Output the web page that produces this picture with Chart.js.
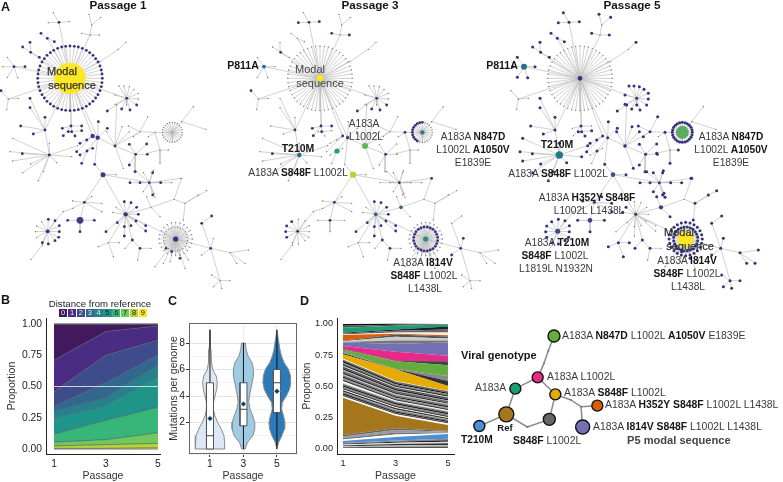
<!DOCTYPE html>
<html><head><meta charset="utf-8">
<style>
html,body{margin:0;padding:0;background:#fff;width:783px;height:482px;overflow:hidden;font-family:"Liberation Sans",Arial,sans-serif}
canvas{position:absolute}
.t{position:absolute;white-space:nowrap;line-height:1;color:#3a3a3a;font-size:10.2px}
.t b{color:#151515}
.key{position:absolute;top:309px;width:8.4px;height:8.4px;font-size:7.5px;line-height:8.6px;text-align:center}
</style>
<script src="https://cdn.jsdelivr.net/npm/chart.js@4/dist/chart.umd.min.js"></script>
</head><body>
<script>
/* ---------- shared tick labels ---------- */
const passages=[1,3,5];
const proportionTicks=[0,0.25,0.5,0.75,1];

/* ---------- B: share of genomes by distance from reference (0..9) at passages 1,3,5 ---------- */
const distanceLabels=['0','1','2','3','4','5','6','7','8','9'];
const distanceColors=['#43195e','#4a2c82','#3f4c8c','#32688e','#27808e','#1f9488','#36b679','#71c95e','#b8d433','#fde725'];
const distanceP1=[0.29,0.25,0.12,0.04,0.05,0.13,0.065,0.03,0.02,0.005];
const distanceP3=[0.06,0.19,0.22,0.12,0.06,0.12,0.155,0.04,0.03,0.005];
const distanceP5=[0.015,0.115,0.12,0.08,0.09,0.245,0.205,0.085,0.035,0.01];

/* ---------- C: violin profile (density at mutation counts) ---------- */
const violinLevels=[0,0.5,1,1.5,2,2.5,3,3.5,4,4.5,5,5.5,6,6.5,7,7.5,8,8.5,9];
const densityP1=[44,44,42,34,23,15,10,10,15,20,22,19,8,5,4,3,2,1,0];
const densityP3=[5,12,28,34,34,28,20,16,18,22,26,30,30,26,14,8,6];
const densityP5=[0,5,15,22,24,20,14,16,28,38,42,41,35,22,14,9,6,3,0];
const boxQ1=[0,1.75,2.75], boxMedian=[1,3,5], boxQ3=[5,5,6], boxMean=[2.3,3.4,4.35], whiskerTop=[9,8,9];
const violinFill=['#dce8f6','#a0cbe4','#2b7bba'];

/* ---------- D: strata stacked from the bottom, width at passages 1,3,5 ---------- */
const strataColor=['#555','#bbb','#333','#ddd','#222','#888','#4b8fd6','#fff','#777','#999','#666','#a6761d',
'#fff','#555','#222','#777','#aaa','#333','#fff','#444','#888','#222','#666','#bbb','#fff','#444','#999','#222','#777','#ccc','#333','#666','#aaa','#222','#555','#ddd','#333','#888','#111','#666','#fff',
'#e6ab02','#333','#888','#62ad3e','#444','#e7298a','#7570b3','#777','#ccc','#555','#d95f02','#eee','#666','#222','#1b9e77','#555','#111'];
const strataP1=[.006,.008,.006,.008,.006,.006,.016,.012,.013,.012,.012,.30,
.012,.012,.012,.010,.003,.012,.006,.012,.010,.012,.010,.008,.014,.014,.012,.012,.012,.006,.014,.012,.010,.014,.014,.006,.014,.012,.012,.012,.006,
.035,.01,.01,.02,.005,.023,.027,.005,.005,.005,.045,.006,.008,.006,.04,.015,.015];
const strataP3=[.01,.01,.012,.01,.008,.01,.03,.02,.015,.02,.015,.10,
.012,.012,.010,.010,.006,.012,.006,.012,.010,.012,.010,.006,.006,.012,.010,.010,.012,.008,.012,.012,.004,.012,.010,.006,.012,.010,.010,.012,.004,
.095,.001,.004,.06,.001,.075,.065,.025,.03,.02,.005,.01,.015,.01,.03,.008,.007];
const strataP5=[.012,.012,.015,.012,.012,.012,.038,.006,.006,.006,.006,.048,
.012,.012,.010,.010,.004,.010,.005,.012,.010,.012,.010,.006,.006,.012,.010,.012,.012,.006,.012,.012,.004,.012,.012,.006,.012,.010,.010,.012,.002,
.04,.04,.04,.088,.032,.043,.107,.016,.016,.016,.01,.024,.024,.024,.015,.003,.002];

/* ---------- A: genome network. [name, parent, x, y, hub code, leaf code, leaves x,y,...]
   code = presence in passage 1,3,5 ('.' absent, 'o' present) ---------- */
const networkStars=[
['root',null,210,235,'ooo','o..',[307,235,306,248,304,260,300,272,294,284,287,294,279,304,269,312,259,319,247,325,235,329,223,331,210,332,197,331,185,329,173,325,161,319,151,312,141,304,133,294,126,284,120,272,116,260,114,248,113,235,114,222,116,210,120,198,126,186,133,176,141,166,151,158,161,151,173,145,185,141,197,139,210,138,223,139,235,141,247,145,259,151,269,158,279,166,287,176,294,186,300,198,304,210,306,222]],
['t1','root',270,105,'...','.oo',[245,100,298,105]],
['t2','t1',275,75,'...','..o',[267,43,302,52]],
['t3','root',177,67,'ooo','..o',[160,38]],
['t3','root',177,67,'ooo','.oo',[208,65,145,68]],
['t4','root',142,115,'o.o','o.o',[123,100,163,125]],
['t5','root',92,157,'ooo','o.o',[68,141,90,127,118,172]],
['p811','root',42,200,'ooo','..o',[8,200,53,233,22,232,22,172]],
['p811','root',42,200,'ooo','o.o',[75,200]],
['l2','root',25,297,'...','...',[55,295,20,328]],
['l2','root',25,297,'...','oo.',[3,272]],
['r0','root',300,185,'...','...',[]],
['r0b','r0',355,148,'...','..o',[378,127]],
['r1','root',380,295,'ooo','..o',[357,258,372,258,388,260,402,268,415,280,415,297,345,285,345,313,380,315]],
['r1','root',380,295,'ooo','oco',[365,327,390,330,410,315,322,333]],
['b1','root',135,390,'ooo','o.o',[90,295,90,323,135,352,100,402,62,378]],
['T','b1',148,465,'ooo','..o',[38,415,30,455,38,483,92,492,68,518,115,542,130,515,148,430,233,437,215,470,170,488]],
['T','b1',148,465,'ooo','ooo',[67,461]],
['c1','root',213,378,'ooo','oo.',[187,385,245,378,190,407]],
['c2','root',215,395,'ooo','o.o',[245,392,225,408,205,395]],
['m1','root',278,408,'ooo','o.o',[240,430,230,455,260,420]],
['m2','root',293,413,'ooo','o.o',[295,365,322,385]],
['a','m2',261,453,'ooo','o..',[240,465,278,445,245,490]],
['n','m2',345,438,'ooo','..o',[366,380,320,395,388,395,350,315]],
['w','n',407,463,'ooo','o.o',[442,463,388,433,388,495,440,432,405,515]],
['u2','n',420,395,'..o','..o',[443,350,385,378,400,410]],
['u3','u2',465,397,'.oo','...',[445,410]],
['u4','u3',480,450,'...','..o',[505,450,440,460,480,490]],
['dr','u3',517,397,'...','..o',[547,397,546,405,543,412,538,418,532,423,525,426,517,427,509,426,543,382,546,389,532,371,538,376,525,368]],
['dr','u3',517,397,'...','.oo',[502,423,496,418,491,412,488,405,487,397,488,389,491,382,496,376,502,371,509,368,517,367]],
['dr2','dr',545,365,'...','...',[580,320,618,388]],
['s','m2',284,493,'o.o','...',[]],
['S','s',309,524,'ooo','..o',[348,524]],
['v','n',370,505,'..o','...',[]],
['H','S',377,643,'ooo','oo.',[373,605,393,608,410,622,415,643,408,663,393,677,373,680,352,668,437,677,437,693,318,695,373,708]],
['H','v',377,643,'ooo','..o',[338,637,348,622]],
['Q','S',448,548,'ooo','o.o',[482,548,390,548,420,548,458,518,458,585]],
['Q','S',448,548,'ooo','..o',[515,548,543,535,410,515,430,518,460,512,430,575,462,580,465,592]],
['G','H',453,622,'..o','..o',[480,650,440,590]],
['G2','G',522,598,'...','.oo',[545,535]],
['G3','G2',555,610,'..o','..o',[620,572,595,585,550,660]],
['y1','H',325,728,'..o','..o',[295,740,340,770,358,728]],
['y2','H',397,720,'ooo','..o',[375,745]],
['y3','y2',420,745,'ooo','...',[453,745,413,780]],
['k','S',253,607,'ooo','..o',[218,603,275,590,305,610,305,635]],
['K','k',240,661,'ooo','o.o',[283,661,203,661,240,695]],
['f','k',218,625,'...','...',[]],
['f2','f',190,635,'...','...',[]],
['L','f2',143,694,'ooo','o.o',[145,658,165,662,178,677,178,695,176,712,165,722,145,732,127,728]],
['L','f2',143,694,'ooo','.oo',[110,712,107,695,110,678,125,665]],
['L2','L',127,735,'...','...',[93,778]],
['M','H',527,717,'ooo','..o',[577,717,575,730,570,742,562,752,552,760,540,765,527,767,514,765,502,760,492,752,484,742,479,730,477,717,479,704,484,692,492,682,502,674,514,669,527,667,540,669,552,674,562,682,570,692,575,704]],
['M','H',527,717,'ooo','.oo',[563,722,560,731,556,739,549,746,541,750,532,753,522,753,513,750,505,746,498,739,494,731,491,722,491,712,494,703,498,695,505,688,513,684,522,681,532,681,541,684,549,688,556,695,560,703,563,712]],
['M','H',527,717,'ooo','o.o',[498,745,515,755,540,775]],
['M','H',527,717,'ooo','...',[465,800,490,790,510,785,555,805,565,780]],
['e','M',632,745,'ooo','.oo',[640,715,605,765]],
['e2','e',605,670,'o.o','o.o',[635,648]],
['e3','e',690,758,'..o','..o',[745,750,710,790,735,790]],
['e4','e',660,842,'..o','..o',[635,825,690,842,640,860,665,865]]
];
const highlightP1={root:[15.7,'#fde725'],K:[3.4,'#3b3b88'],S:[2.5,'#3b3b88'],m1:[2.2,'#3b3b88'],m2:[2.2,'#3b3b88'],M:[2.6,'#2f3183'],H:[2.2,'#37347f'],L:[1.9,'#37347f']};
const highlightP3={root:[3.3,'#fde725'],p811:[1.8,'#2d5f8a'],T:[2.2,'#1f6f80'],a:[2.6,'#1f9e89'],n:[3,'#5cb85c'],S:[3.2,'#b8d433'],dr:[2.2,'#2e7a8e'],M:[2.6,'#1f8f80'],H:[1.8,'#2d5f8a'],G:[1.8,'#2d5f8a'],m2:[1.8,'#3f4c8c']};
const highlightP5={root:[2.3,'#37347f'],p811:[3,'#2a6f8e'],T:[3.7,'#1f7a8c'],a:[1.5,'#37347f'],n:[1.8,'#37347f'],S:[2.3,'#3f4c8c'],dr:[6.5,'#5aad62'],M:[8,'#fde725'],H:[1.5,'#37347f'],G:[2.1,'#3b3b88'],L:[2.5,'#3f4c8c'],K:[2.3,'#3b3b88'],m2:[1.5,'#37347f']};

/* ---------- D right: genotype tree ---------- */
const genotypeX=[297,248,181,154,73,301,283,427,383,280,267,217,348,378];
const genotypeY=[48,172,206,283,318,223,298,257,321,92,130,321,240,260];
const genotypeColor=['#62ad3e','#e7298a','#1b9e77','#a6761d','#4b8fd6','#e6ab02','#666666','#d95f02','#7570b3','#777','#777','#777','#777','#777'];
const genotypeSize=[6,5.5,5.5,7.5,5.5,5.5,6,5.5,7,1,1,1,1,1];
const genotypeEdges=[[0,9],[9,10],[10,1],[1,2],[2,3],[3,4],[3,11],[11,6],[6,5],[1,5],[5,12],[12,13],[13,7],[13,8]];

/* ---------- text ---------- */
const textLabels=[
['<b>A</b>',1,7,'l','font-size:12.5px'],['<b>B</b>',1,300,'l','font-size:12.5px'],['<b>C</b>',168,301,'l','font-size:12.5px'],['<b>D</b>',300,301,'l','font-size:12.5px'],
['<b>Passage 1</b>',118,5,'c','font-size:11.7px'],['<b>Passage 3</b>',370,5,'c','font-size:11.7px'],['<b>Passage 5</b>',632,5,'c','font-size:11.7px'],
['Modal',62,71,'c','font-size:11px;color:#333;-webkit-text-stroke:.25px #333'],['sequence',72,85,'c','font-size:11px;color:#333;-webkit-text-stroke:.25px #333'],
['<b>P811A</b>',243,65,'c','font-size:10.5px'],['Modal',310,69,'c','font-size:11px;color:#444'],['sequence',320,83,'c','font-size:11px;color:#444'],
['A183A',364,124,'c',''],['L1002L',366,137,'c',''],['<b>T210M</b>',298,148,'c','font-size:10.5px'],['A183A <b>S848F</b> L1002L',298,173,'c',''],
['A183A <b>N847D</b>',473,137,'c',''],['L1002L <b>A1050V</b>',473,150,'c',''],['E1839E',473,163,'c',''],
['A183A <b>I814V</b>',423,263,'c',''],['<b>S848F</b> L1002L',424,276,'c',''],['L1438L',425,289,'c',''],
['<b>P811A</b>',502,65,'c','font-size:10.5px'],['<b>T210M</b>',557,144,'c','font-size:10.5px'],['A183A <b>S848F</b> L1002L',558,174,'c',''],
['A183A <b>N847D</b>',731,137,'c',''],['L1002L <b>A1050V</b>',731,150,'c',''],['E1839E',731,163,'c',''],
['A183A <b>H352Y S848F</b>',587,198,'c',''],['L1002L L1438L',589,211,'c',''],
['A183A <b>T210M</b>',557,243,'c',''],['<b>S848F</b> L1002L',555,256,'c',''],['L1819L N1932N',556,269,'c',''],
['Modal',679,232,'c','font-size:11px;color:#333;-webkit-text-stroke:.25px #333'],['sequence',690,246,'c','font-size:11px;color:#333;-webkit-text-stroke:.25px #333'],
['A183A <b>I814V</b>',687,261,'c',''],['<b>S848F</b> L1002L',687,274,'c',''],['L1438L',688,287,'c',''],
['Distance from reference',100,304,'c','font-size:9.6px;color:#222'],
['A183A <b>N847D</b> L1002L <b>A1050V</b> E1839E',562,336,'l','font-size:10.4px'],
['<b>Viral genotype</b>',461,355,'l','font-size:11px'],
['A183A L1002L',547,377,'l','font-size:10.4px'],['A183A',475,388,'l','font-size:10.4px'],
['A183A <b>S848F</b> L1002L',564,393,'l','font-size:10.4px'],
['A183A <b>H352Y S848F</b> L1002L L1438L',605,405,'l','font-size:10.4px'],
['A183A <b>I814V S848F</b> L1002L L1438L',593,427,'l','font-size:10.4px'],
['<b style="color:#444">P5 modal sequence</b>',627,441,'l','font-size:11.1px'],
['<b>Ref</b>',505,428,'c','font-size:9.5px'],['<b>T210M</b>',461,440,'l','font-size:10.2px'],['<b>S848F</b> L1002L',513,441,'l','font-size:10.4px']
];

/* ---------- helpers ---------- */
const noTip={legend:{display:false},tooltip:{enabled:false}};
function addCanvas(l,t,w,h){const c=document.createElement('canvas');c.width=w;c.height=h;c.style.cssText=`left:${l}px;top:${t}px;width:${w}px;height:${h}px`;document.body.appendChild(c);return c;}
const base={responsive:false,animation:false,devicePixelRatio:1,events:[]};
const tickFont={family:'"Liberation Sans"',size:10.3};
const titleFont={family:'"Liberation Sans"',size:10.5};
function xAxis(min,max,height,titlePad,font){return {type:'linear',min,max,grid:{display:false,drawTicks:true,tickLength:3,tickColor:'#222'},border:{color:'#222',width:1},
  afterBuildTicks:s=>{s.ticks=passages.map(v=>({value:v}));},afterFit:s=>{s.height=height;},
  ticks:{font:font||tickFont,color:'#222',padding:1,maxRotation:0,autoSkip:false,callback:v=>String(v)},
  title:{display:true,text:'Passage',font:titleFont,color:'#333',padding:titlePad}};}
function pt(x,y){return {x,y};}

/* ---------- A ---------- */
(function(){
 const nodes=[],index={};
 function addNode(name,x,y,code,parent){nodes.push({name,x,y,code,parent});return nodes.length-1;}
 networkStars.forEach(s=>{
  const [name,parent,x,y,hc,lc,leaves]=s;
  if(!(name in index)) index[name]=addNode(name,x,y,hc,parent===null?-1:index[parent]);
  for(let i=0;i<leaves.length;i+=2) addNode(null,leaves[i],leaves[i+1],lc,index[name]);
 });
 const sets=[[0,highlightP1],[750,highlightP3],[1530,highlightP5]];
 const datasets=[];
 sets.forEach(([dx,hl],p)=>{
  const edge=[];
  nodes.forEach(n=>{if(n.parent>=0){const q=nodes[n.parent];edge.push(pt(q.x+dx,q.y),pt(n.x+dx,n.y),{x:null,y:null});}});
  datasets.push({data:edge,showLine:true,borderColor:'#bdbdbd',borderWidth:0.7,pointRadius:0,spanGaps:false,order:5});
  const radius=[],color=[];
  nodes.forEach(n=>{
   const h=n.name&&hl[n.name];
   if(h){radius.push(h[0]);color.push(h[1]);}
   else if(n.code[p]==='.'){radius.push(0.7);color.push('#777');}
   else{radius.push(p===2?1.5:1.4);color.push('#37317c');}
  });
  datasets.push({data:nodes.map(n=>pt(n.x+dx,n.y)),showLine:false,pointRadius:radius,pointBackgroundColor:color,pointBorderWidth:0,order:1});
 });
 new Chart(addCanvas(0,0,783,300),{type:'scatter',data:{datasets},options:{...base,layout:{padding:0,autoPadding:false},plugins:noTip,
  scales:{x:{type:'linear',min:0,max:2349,display:false},y:{type:'linear',min:0,max:900,reverse:true,display:false}}}});
})();

/* ---------- B ---------- */
(function(){
 const ds=[];
 for(let i=distanceLabels.length-1;i>=0;i--){
  ds.push({data:passages.map((p,k)=>pt(p,[distanceP1,distanceP3,distanceP5][k][i])),backgroundColor:distanceColors[i],borderColor:'#4a5a6a',borderWidth:0.7,pointRadius:0,fill:i===distanceLabels.length-1?'origin':'-1',tension:0,yAxisID:'y'});
 }
 const limit=v=>passages.map(p=>pt(p,v));
 ds.push({data:limit(0.5),borderColor:'rgba(255,255,255,.75)',borderWidth:1.2,pointRadius:0,yAxisID:'y2',fill:false,order:-1});
 ds.push({data:limit(1),borderColor:'#777',borderWidth:1,pointRadius:0,yAxisID:'y2',fill:false,order:-1});
 ds.push({data:limit(0),borderColor:'#777',borderWidth:1,pointRadius:0,yAxisID:'y2',fill:false,order:-1});
 new Chart(addCanvas(0,310,165,172),{type:'line',data:{datasets:ds},options:{...base,layout:{autoPadding:false,padding:{top:8,right:5,left:0,bottom:0}},plugins:noTip,
  scales:{x:xAxis(0.692,5.08,28,{top:1,bottom:0}),
   y:{type:'linear',stacked:true,min:-0.04,max:1.048,grid:{display:false,drawTicks:true,tickLength:3,tickColor:'#222'},border:{color:'#222',width:1},afterFit:s=>{s.width=46;},
    afterBuildTicks:s=>{s.ticks=proportionTicks.map(v=>({value:v}));},
    ticks:{font:tickFont,color:'#222',padding:1,callback:v=>Number(v).toFixed(2)},
    title:{display:true,text:'Proportion',font:titleFont,color:'#333',padding:{top:6,bottom:0}}},
   y2:{type:'linear',display:false,min:-0.04,max:1.048}}}});
})();

/* ---------- C ---------- */
(function(){
 const profiles=[densityP1,densityP3,densityP5];
 const ds=[];
 const densityToWidth=50.25, boxHalf=0.21;
 const frame={id:'frame',afterDraw(c){const a=c.chartArea,x=c.ctx;x.save();x.strokeStyle='#666';x.lineWidth=1;x.strokeRect(a.left+.5,a.top+.5,a.right-a.left-1,a.bottom-a.top-1);x.restore();}};
 passages.forEach((p,k)=>{
  const d=profiles[k],lv=violinLevels.slice(0,d.length);
  const right=lv.map((y,i)=>pt(p+d[i]/densityToWidth,y));
  const left=lv.map((y,i)=>pt(p-d[i]/densityToWidth,y)).reverse();
  const shape=right.concat(left,[right[0]]);
  ds.push({data:shape,showLine:true,fill:'shape',backgroundColor:violinFill[k],borderColor:'#8a8a8a',borderWidth:1,pointRadius:0,tension:0,order:6});
  ds.push({data:[pt(p,0),pt(p,whiskerTop[k])],showLine:true,borderColor:'#111',borderWidth:1,pointRadius:0,order:5});
  const a=boxQ1[k],b=boxQ3[k];
  ds.push({data:[pt(p-boxHalf,a),pt(p+boxHalf,a),pt(p+boxHalf,b),pt(p-boxHalf,b),pt(p-boxHalf,a)],showLine:true,fill:'shape',backgroundColor:'#fff',borderColor:'#555',borderWidth:1,pointRadius:0,tension:0,order:4});
  ds.push({data:[pt(p-boxHalf,boxMedian[k]),pt(p+boxHalf,boxMedian[k])],showLine:true,borderColor:'#444',borderWidth:1,pointRadius:0,order:3});
  ds.push({data:[pt(p,boxMean[k])],showLine:false,pointStyle:'rectRot',pointRadius:3,pointBackgroundColor:'#123a5e',pointBorderColor:'#fff',pointBorderWidth:.8,order:1});
 });
 new Chart(addCanvas(160,310,165,172),{type:'scatter',plugins:[frame],data:{datasets:ds},options:{...base,layout:{autoPadding:false,padding:{top:13,right:28,left:0,bottom:0}},plugins:noTip,
  scales:{x:{...xAxis(-0.254,6.2,28,{top:1,bottom:0}),grid:{display:true,color:'#ececec',drawTicks:true,tickLength:3,tickColor:'#333',lineWidth:1},border:{display:false}},
   y:{type:'linear',min:-0.377,max:9.51,afterFit:s=>{s.width=29;},border:{display:false},
    grid:{color:c=>c.tick.value%2?'#f3f3f3':'#e4e4e4',tickColor:c=>c.tick.value%2?'rgba(0,0,0,0)':'#333',tickLength:3},
    ticks:{stepSize:1,font:tickFont,color:'#222',padding:1,autoSkip:false,callback:v=>v%2?'':String(v)},
    title:{display:true,text:'Mutations per genome',font:titleFont,color:'#333',padding:{top:8,bottom:0}}}}}});
})();

/* ---------- D ---------- */
(function(){
 const ds=strataColor.map((col,i)=>({data:passages.map((p,k)=>pt(p,[strataP1,strataP3,strataP5][k][i])),backgroundColor:col,borderColor:col,borderWidth:0,pointRadius:0,fill:i===0?'origin':'-1',tension:0}));
 new Chart(addCanvas(295,310,165,172),{type:'line',data:{datasets:ds},options:{...base,layout:{autoPadding:false,padding:{top:8,right:6,left:0,bottom:0}},plugins:noTip,
  scales:{x:xAxis(0.771,5.23,28,{top:1,bottom:0},{family:'"Liberation Sans"',size:9.2}),
   y:{type:'linear',stacked:true,min:-0.048,max:1.048,grid:{display:false,drawTicks:true,tickLength:3,tickColor:'#222'},border:{color:'#222',width:1},afterFit:s=>{s.width=42;},
    afterBuildTicks:s=>{s.ticks=proportionTicks.map(v=>({value:v}));},
    ticks:{font:{family:'"Liberation Sans"',size:9.2},color:'#222',padding:1,callback:v=>Number(v).toFixed(2)},
    title:{display:true,text:'Proportion',font:{family:'"Liberation Sans"',size:10.2},color:'#333',padding:{top:6,bottom:0}}}}}});
})();

/* ---------- genotype tree ---------- */
(function(){
 const edge=[];
 genotypeEdges.forEach(([a,b])=>edge.push(pt(genotypeX[a],genotypeY[a]),pt(genotypeX[b],genotypeY[b]),{x:null,y:null}));
 new Chart(addCanvas(455,320,328,150),{type:'scatter',data:{datasets:[
  {data:genotypeX.map((x,i)=>pt(x,genotypeY[i])),showLine:false,pointRadius:genotypeSize,pointBackgroundColor:genotypeColor,pointBorderColor:genotypeSize.map(s=>s>2?'#111':'#777'),pointBorderWidth:genotypeSize.map(s=>s>2?1.4:0),order:1},
  {data:edge,showLine:true,borderColor:'#8a8a8a',borderWidth:1.5,pointRadius:0,spanGaps:false,order:2}
 ]},options:{...base,layout:{padding:0,autoPadding:false},plugins:noTip,scales:{x:{type:'linear',min:0,max:984,display:false},y:{type:'linear',min:0,max:450,reverse:true,display:false}}}});
})();

/* ---------- text overlays ---------- */
textLabels.forEach(([html,x,y,al,st])=>{
 const d=document.createElement('div');d.className='t';d.innerHTML=html;
 d.style.cssText=`left:${x}px;top:${y}px;transform:translate(${al==='c'?'-50%':'0'},-50%);${st}`;
 document.body.appendChild(d);
});
distanceLabels.forEach((lab,i)=>{
 const d=document.createElement('div');d.className='key';d.textContent=lab;
 d.style.left=(59+i*8.85)+'px';d.style.background=distanceColors[i];d.style.color=i<5?'#e8e8f0':'#222';
 document.body.appendChild(d);
});
</script>
</body></html>
